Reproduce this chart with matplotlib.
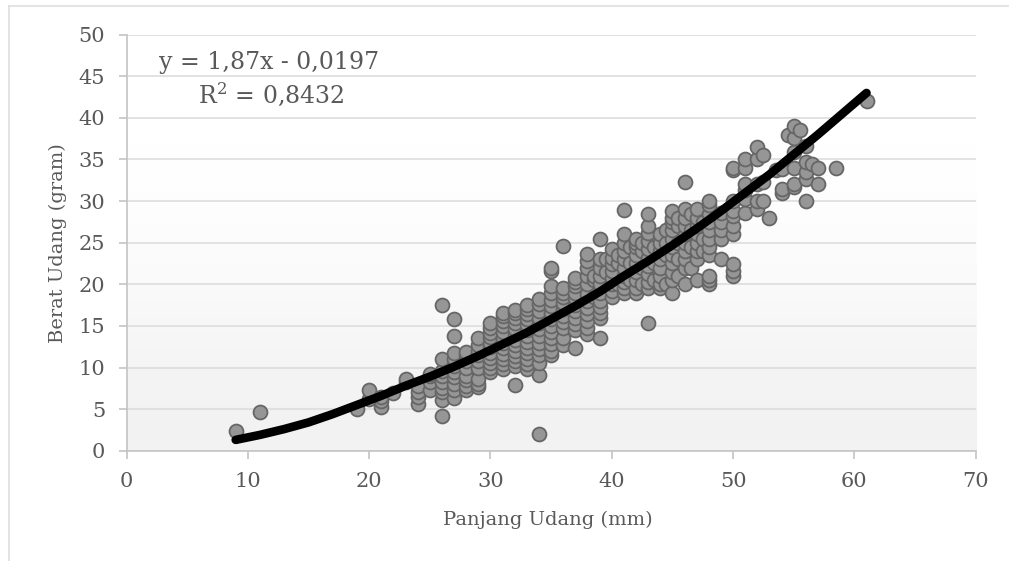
import matplotlib
matplotlib.use("Agg")
import matplotlib.pyplot as plt
from matplotlib.lines import Line2D
import numpy as np

plt.rcParams['font.family'] = ['DejaVu Serif']
plt.rcParams['mathtext.fontset'] = 'dejavuserif'
plt.rcParams['mathtext.default'] = 'regular'

W, H = 1009, 561
TEXT = '#595959'

x_ticks = [0, 10, 20, 30, 40, 50, 60, 70]
y_ticks = [0, 5, 10, 15, 20, 25, 30, 35, 40, 45, 50]
x_label = 'Panjang Udang (mm)'
y_label = 'Berat Udang (gram)'
eq_line1 = 'y = 1,87x - 0,0197'
eq_line2 = 'R$^{2}$ = 0,8432'

trend_x = [9, 11, 13, 15, 17, 19, 21, 23, 25, 27, 29, 31, 33, 35, 37, 39, 41, 43, 45, 47, 49, 51, 53, 55, 57, 59, 61]
trend_y = [1.3, 1.9, 2.6, 3.4, 4.4, 5.5, 6.6, 7.8, 8.9, 10.1, 11.4, 12.8, 14.2, 15.8, 17.4, 19.1, 21.0, 22.8, 24.7, 26.7, 28.8, 31.0, 33.2, 35.6, 38.0, 40.5, 43.0]

columns = [
 (9, [2.4]), (11, [4.6]), (19, [5.0]), (20, [6.2, 7.3]), (21, [5.2, 6.0, 6.4]), (22, [6.9]),
 (23, [8.2, 8.6]), (24, [5.6, 6.5, 7.1, 7.8]), (25, [7.3, 8.2, 9.0, 9.2]),
 (26, [4.2, 6.1, 7.0, 7.5, 8.3, 9.0, 9.6, 11.0, 17.5]),
 (27, [6.3, 7.3, 8.0, 8.8, 9.5, 10.2, 11.0, 11.7, 13.8, 15.8]),
 (28, [7.3, 7.8, 8.5, 9.0, 10.0, 10.8, 11.5, 11.9]),
 (29, [7.7, 8.0, 8.6, 10.0, 10.8, 11.5, 12.0, 12.7, 13.5]),
 (30, [9.5, 10.0, 10.6, 11.2, 11.8, 12.5, 13.0, 13.7, 14.2, 14.8, 15.3]),
 (31, [9.8, 10.4, 11.0, 11.6, 12.3, 13.0, 13.6, 14.3, 15.0, 15.6, 16.2, 16.6]),
 (32, [7.9, 10.2, 10.8, 11.4, 12.0, 12.7, 13.3, 14.0, 14.6, 15.3, 15.9, 16.5, 16.9]),
 (33, [9.8, 10.4, 11.0, 11.7, 12.4, 13.1, 13.8, 14.5, 15.1, 15.8, 16.4, 17.0, 17.5]),
 (34, [2.0, 9.1, 10.5, 11.5, 12.2, 13.0, 13.8, 14.6, 15.3, 16.0, 16.8, 17.6, 18.2]),
 (35, [11.5, 12.0, 12.8, 13.5, 14.3, 15.0, 15.8, 16.6, 17.4, 18.1, 19.0, 19.8, 21.6, 22.0]),
 (36, [12.7, 13.5, 14.7, 15.5, 16.2, 17.0, 17.8, 18.5, 19.0, 19.5, 24.6]),
 (37, [12.4, 14.5, 15.2, 16.0, 16.8, 17.5, 18.3, 19.0, 19.8, 20.3, 20.8]),
 (38, [14.0, 14.8, 15.6, 16.4, 17.2, 18.0, 18.8, 20.0, 21.0, 22.0, 22.8, 23.6]),
 (38.5, [18.5, 20.5, 21.0]),
 (39, [13.5, 16.0, 16.6, 17.3, 18.0, 19.0, 20.0, 21.0, 22.0, 23.0, 25.5]),
 (39.5, [21.5, 23.0]),
 (40, [18.5, 19.2, 20.0, 20.8, 21.6, 22.4, 23.2, 24.3]),
 (40.5, [20.0, 22.5, 23.5]),
 (41, [19.0, 19.6, 20.3, 21.0, 22.0, 23.0, 24.0, 25.0, 26.0, 28.9]),
 (41.5, [20.5, 22.5, 24.5]),
 (42, [19.0, 19.6, 20.5, 21.5, 22.5, 23.5, 24.5, 25.0, 25.5]),
 (42.5, [20.0, 22.0, 24.0, 25.0]),
 (43, [15.4, 19.5, 20.3, 21.2, 22.2, 23.2, 24.2, 25.2, 26.2, 27.0, 28.5]),
 (43.5, [20.5, 22.5, 24.5]),
 (44, [19.5, 20.0, 21.0, 22.0, 23.0, 24.0, 25.0, 26.0]),
 (44.5, [20.0, 23.5, 25.0, 26.5]),
 (45, [19.0, 20.5, 21.5, 22.5, 23.5, 24.5, 25.5, 26.5, 27.5, 28.0, 28.8]),
 (45.5, [21.0, 23.0, 25.0, 27.0, 28.0]),
 (46, [20.0, 22.0, 23.0, 24.0, 25.0, 26.0, 27.0, 28.0, 29.0, 32.3]),
 (46.5, [22.0, 24.5, 26.5, 28.5]),
 (47, [20.5, 23.0, 24.0, 25.0, 26.0, 27.0, 28.0, 29.0]),
 (47.5, [24.0, 25.5, 27.5]),
 (48, [20.0, 20.5, 21.0, 23.5, 24.5, 25.5, 26.5, 27.5, 28.5, 29.5, 30.0]),
 (49, [23.0, 25.5, 26.5, 27.5, 28.6]),
 (50, [21.0, 21.6, 22.4, 26.0, 27.0, 28.2, 28.8, 30.0, 33.7, 34.0]),
 (51, [28.6, 30.3, 31.3, 32.0, 34.0, 35.0]),
 (52, [29.0, 30.0, 32.0, 35.0, 36.5]),
 (52.5, [30.0, 32.3, 35.5]), (53, [28.0]), (53.5, [33.7]),
 (54, [31.0, 31.5, 33.8]), (54.5, [38.0]),
 (55, [31.7, 32.0, 34.0, 35.9, 37.6, 39.0]), (55.5, [38.5]),
 (56, [30.0, 32.7, 33.5, 34.7, 36.6]), (56.5, [34.4]),
 (57, [32.0, 34.0]), (58.5, [34.0]), (61, [42.0]),
]

x_pts = [c[0] for c in columns for _ in c[1]]
y_pts = [v for c in columns for v in c[1]]

fig = plt.figure(figsize=(W / 100, H / 100), dpi=100)
fig.patch.set_facecolor('white')

# outer chart frame: top and left edges only are visible
fig.add_artist(Line2D([8.5 / W, 8.5 / W], [0, 1 - 6 / H], transform=fig.transFigure,
                      color='#E0E0E0', linewidth=1.3))
fig.add_artist(Line2D([8.5 / W, 1], [1 - 6 / H, 1 - 6 / H], transform=fig.transFigure,
                      color='#E0E0E0', linewidth=1.3))

ax = fig.add_axes([126.5 / W, 1 - 450.7 / H, 849.2 / W, 416 / H])
ax.set_xlim(0, 70)
ax.set_ylim(0, 50)
ax.set_facecolor('none')

grad = np.array([[0.945], [0.955], [0.968], [0.98], [0.99], [0.995], [0.998], [1.0]])
ax.imshow(grad, extent=(0, 70, 0, 50), origin='lower', aspect='auto',
          cmap='gray', vmin=0, vmax=1, zorder=0, interpolation='bicubic')

ax.yaxis.grid(True, color='#DDDDDD', linewidth=1.2, zorder=1)
ax.set_axisbelow(True)
ax.set_xticks(x_ticks)
ax.set_yticks(y_ticks)
ax.tick_params(axis='both', direction='out', length=5.8, width=1.2, color='#C4C4C4',
               labelcolor=TEXT, labelsize=15, pad=9.5)
for s in ('top', 'right'):
    ax.spines[s].set_visible(False)
for s in ('left', 'bottom'):
    ax.spines[s].set_color('#C4C4C4')
    ax.spines[s].set_linewidth(1.2)

ax.plot(x_pts, y_pts, linestyle='none', marker='o', markersize=10.0,
        markerfacecolor='#969696', markeredgecolor='#666666',
        markeredgewidth=1.3, zorder=3, clip_on=False)
ax.plot(trend_x, trend_y, color='black', linewidth=6.2, solid_capstyle='round',
        solid_joinstyle='round', zorder=4)

fig.text(547.5 / W, 1 - 520 / H, x_label, ha='center', va='center', color=TEXT, fontsize=14)
fig.text(58 / W, 1 - 243 / H, y_label, ha='center', va='center', rotation=90, color=TEXT, fontsize=14)
fig.text(269 / W, 1 - 62 / H, eq_line1, ha='center', va='center', color=TEXT, fontsize=17)
fig.text(271 / W, 1 - 94 / H, eq_line2, ha='center', va='center', color=TEXT, fontsize=17)

fig.savefig('out.png', dpi=100)
